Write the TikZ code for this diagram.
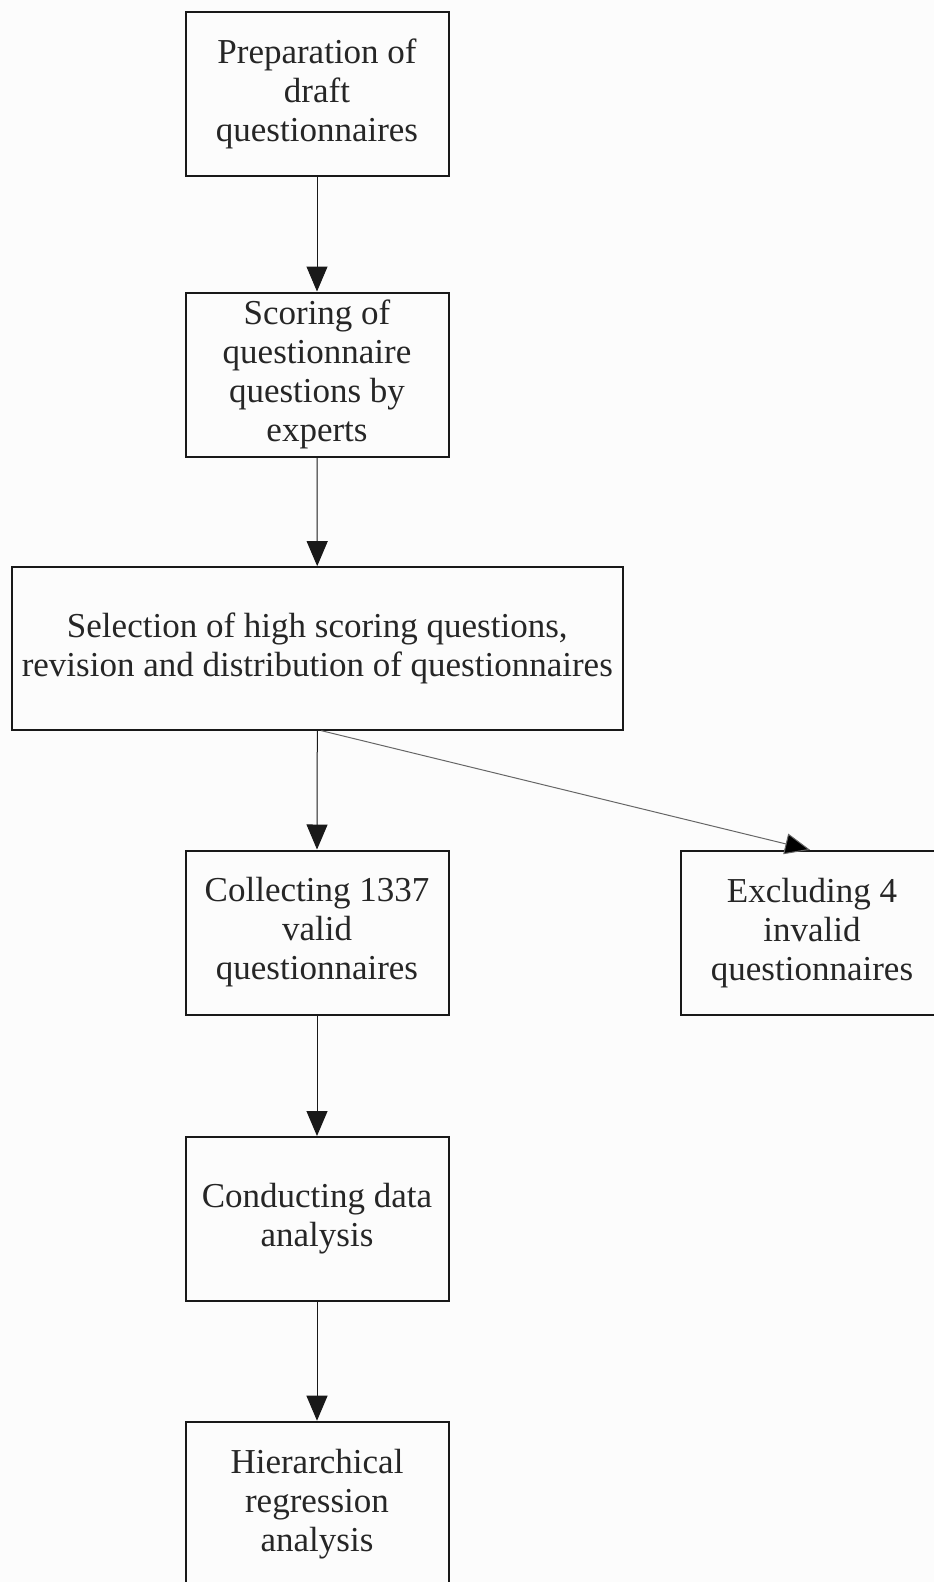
\documentclass[tikz,border=0pt]{standalone}
\usepackage{fontspec}
\setmainfont{Liberation Serif}
\usetikzlibrary{arrows.meta}
\tikzset{
  box/.style={draw=black!90, line width=2pt, minimum width=263pt, minimum height=164pt,
    align=center, inner sep=0pt, text=black!85, font=\fontsize{35}{39}\selectfont},
  arr/.style={line width=1pt, draw=black!90, -{Triangle[length=25pt,width=21pt]}},
  diag/.style={line width=1pt, draw=black!60, -{Triangle[length=25pt,width=21pt,fill=black]}}
}
\begin{document}
\begin{tikzpicture}[x=1pt,y=-1pt]
\useasboundingbox[fill=white!99!black] (0,0) rectangle (934,1582);
\node[box] (b1) at (317,94) {Preparation of\\draft\\questionnaires};
\node[box] (b2) at (317,374.5) {Scoring of\\questionnaire\\questions by\\experts};
\node[box, minimum width=611.5pt, minimum height=162.5pt] (b3) at (317.3,648.4) {Selection of high scoring questions,\\revision and distribution of questionnaires};
\node[box] (b4) at (317,932.5) {Collecting 1337\\valid\\questionnaires};
\node[box] (b5) at (812,932.8) {Excluding 4\\invalid\\questionnaires};
\node[box] (b6) at (317,1219) {Conducting data\\analysis};
\node[box] (b7) at (317,1503.7) {Hierarchical\\regression\\analysis};
\draw[arr] (b1) -- (b2);
\draw[arr] (b2) -- (b3);
\draw[arr] (b3.south) -- (b4.north);
\draw[diag] ([xshift=4pt]b3.south) -- ([xshift=-2pt]b5.north);
\draw[arr] (b4) -- (b6);
\draw[arr] (b6) -- (b7);
\end{tikzpicture}
\end{document}
